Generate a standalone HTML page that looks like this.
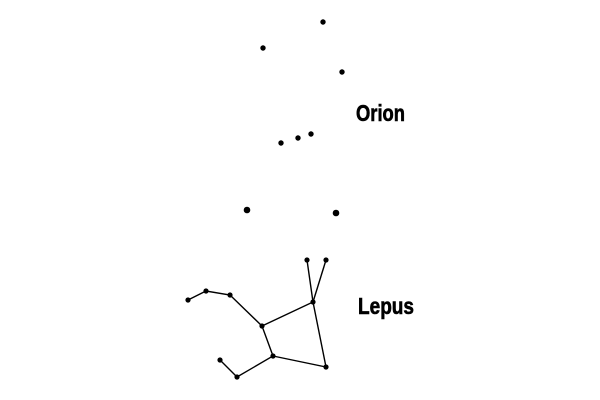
<!DOCTYPE html>
<html><head><style>body{margin:0;background:#fff}svg{display:block}text{font-family:"Liberation Sans Narrow","Liberation Sans",sans-serif;font-weight:bold;font-size:23px;stroke:#000;stroke-width:0.6}</style></head>
<body><svg width="600" height="400" viewBox="0 0 600 400">
<g fill="#000">
<circle cx="323" cy="22" r="2.7"/><circle cx="263" cy="48" r="2.7"/><circle cx="342" cy="72" r="2.7"/>
<circle cx="281" cy="143" r="2.7"/><circle cx="298" cy="138" r="2.7"/><circle cx="311" cy="134" r="2.7"/>
<circle cx="247" cy="210" r="3.3"/><circle cx="336" cy="213" r="3.3"/>
</g>
<g stroke="#000" stroke-width="1.4" fill="none">
<polyline points="188,300 206,291 230,295 262,326 273,356 237,377 220,360"/>
<polyline points="262,326 313,302 307,260"/>
<polyline points="313,302 326,260"/>
<polyline points="313,302 326,367 273,356"/>
</g>
<g fill="#000">
<circle cx="188" cy="300" r="2.6"/><circle cx="206" cy="291" r="2.6"/><circle cx="230" cy="295" r="2.6"/>
<circle cx="262" cy="326" r="2.6"/><circle cx="273" cy="356" r="2.6"/><circle cx="237" cy="377" r="2.6"/>
<circle cx="220" cy="360" r="2.6"/><circle cx="313" cy="302" r="2.6"/><circle cx="307" cy="260" r="2.6"/>
<circle cx="326" cy="260" r="2.6"/><circle cx="326" cy="367" r="2.6"/>
</g>
<text x="356" y="121" textLength="49" lengthAdjust="spacingAndGlyphs">Orion</text>
<text x="358" y="314" textLength="56" lengthAdjust="spacingAndGlyphs">Lepus</text>
</svg></body></html>
